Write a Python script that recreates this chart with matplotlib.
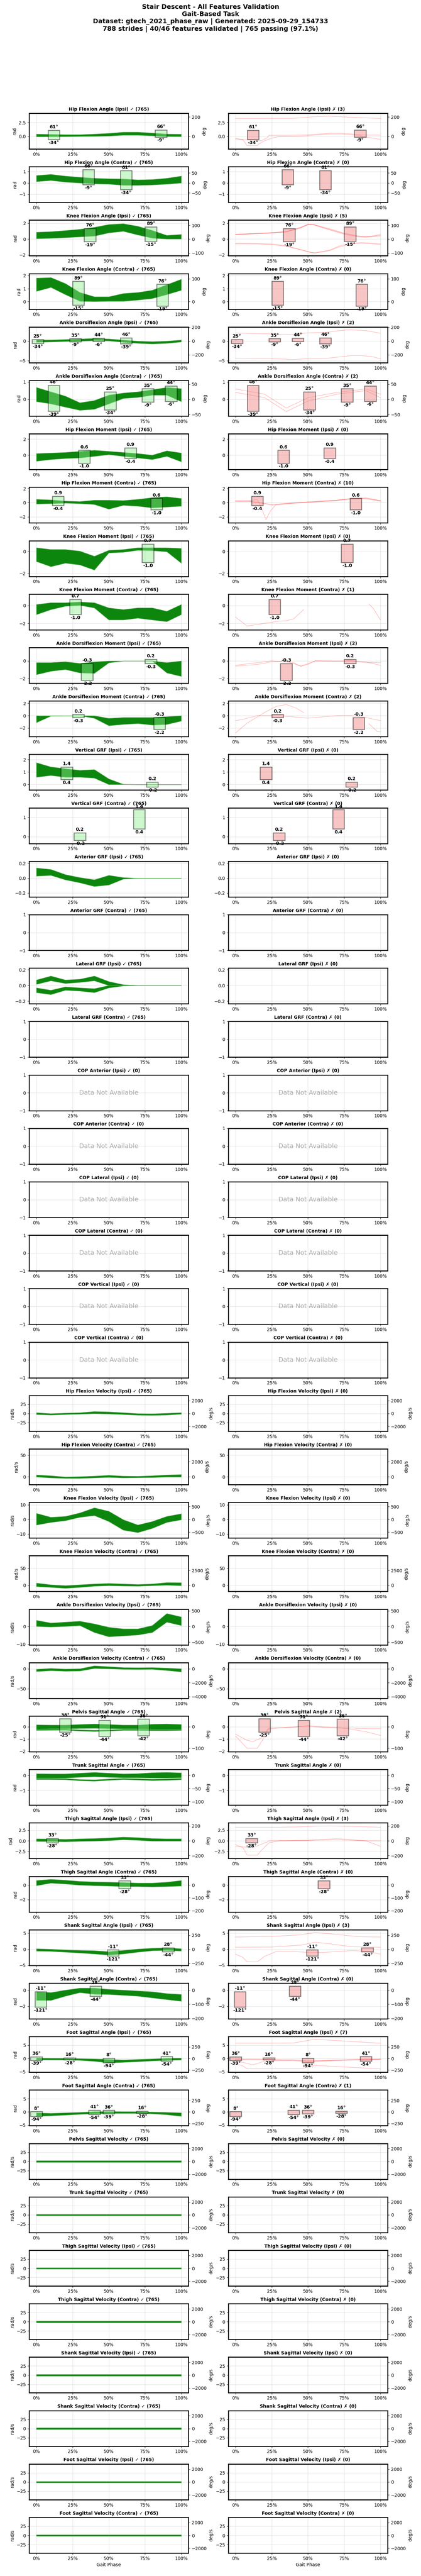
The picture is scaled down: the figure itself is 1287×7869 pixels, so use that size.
import numpy as np
import matplotlib
matplotlib.use("Agg")
import matplotlib.pyplot as plt
from matplotlib.patches import Rectangle

# ---------------------------------------------------------------- data
PHASE = [0, 10, 20, 30, 40, 50, 60, 70, 80, 90, 100]

FEATURES = [
    "Hip Flexion Angle (Ipsi)", "Hip Flexion Angle (Contra)",
    "Knee Flexion Angle (Ipsi)", "Knee Flexion Angle (Contra)",
    "Ankle Dorsiflexion Angle (Ipsi)", "Ankle Dorsiflexion Angle (Contra)",
    "Hip Flexion Moment (Ipsi)", "Hip Flexion Moment (Contra)",
    "Knee Flexion Moment (Ipsi)", "Knee Flexion Moment (Contra)",
    "Ankle Dorsiflexion Moment (Ipsi)", "Ankle Dorsiflexion Moment (Contra)",
    "Vertical GRF (Ipsi)", "Vertical GRF (Contra)",
    "Anterior GRF (Ipsi)", "Anterior GRF (Contra)",
    "Lateral GRF (Ipsi)", "Lateral GRF (Contra)",
    "COP Anterior (Ipsi)", "COP Anterior (Contra)",
    "COP Lateral (Ipsi)", "COP Lateral (Contra)",
    "COP Vertical (Ipsi)", "COP Vertical (Contra)",
    "Hip Flexion Velocity (Ipsi)", "Hip Flexion Velocity (Contra)",
    "Knee Flexion Velocity (Ipsi)", "Knee Flexion Velocity (Contra)",
    "Ankle Dorsiflexion Velocity (Ipsi)", "Ankle Dorsiflexion Velocity (Contra)",
    "Pelvis Sagittal Angle", "Trunk Sagittal Angle",
    "Thigh Sagittal Angle (Ipsi)", "Thigh Sagittal Angle (Contra)",
    "Shank Sagittal Angle (Ipsi)", "Shank Sagittal Angle (Contra)",
    "Foot Sagittal Angle (Ipsi)", "Foot Sagittal Angle (Contra)",
    "Pelvis Sagittal Velocity", "Trunk Sagittal Velocity",
    "Thigh Sagittal Velocity (Ipsi)", "Thigh Sagittal Velocity (Contra)",
    "Shank Sagittal Velocity (Ipsi)", "Shank Sagittal Velocity (Contra)",
    "Foot Sagittal Velocity (Ipsi)", "Foot Sagittal Velocity (Contra)",
]
# unit kind per feature: a = angle, v = velocity, n = no unit axis
UNITS = list("aaaaaa" + "nnnnnn" + "nnnnnn" + "nnnnnn" + "vvvvvv" + "aaaaaaaa" + "vvvvvvvv")
PASS_N = [765] * 18 + [0] * 6 + [765] * 22
FAIL_N = [3, 0, 5, 0, 2, 2, 0, 10, 0, 1, 2, 2, 0, 0, 0, 0, 0, 0,
          0, 0, 0, 0, 0, 0, 0, 0, 0, 0, 0, 0,
          2, 0, 3, 0, 3, 0, 7, 1, 0, 0, 0, 0, 0, 0, 0, 0]
NO_DATA = [18, 19, 20, 21, 22, 23]

YLIMS = [
    (-2.32, 4.17), (-1.70, 1.41), (-2.10, 2.39), (-0.58, 2.15), (-5.5, 3.58), (-0.96, 1.09),
    (-1.80, 2.65), (-2.86, 2.17), (-2.27, 1.0), (-2.72, 1.29), (-2.54, 1.53), (-3.39, 2.38),
    (-0.45, 2.41), (-0.36, 1.5), (-0.253, 0.23), (-1, 1), (-0.233, 0.22), (-1, 1),
    (-1, 1), (-1, 1), (-1, 1), (-1, 1), (-1, 1), (-1, 1),
    (-48, 49), (-17.7, 64.3), (-12.8, 11.7), (-18.4, 87), (-10.3, 9.7), (-73.8, 15.6),
    (-2.03, 0.88), (-1.98, 0.39), (-4.2, 4.23), (-3.68, 1.19), (-5.0, 6.07), (-3.55, 0.85),
    (-5.2, 8.3), (-5.2, 8.3), (-48, 49), (-48, 49), (-48, 49), (-48, 49),
    (-48, 49), (-48, 49), (-48, 49), (-48, 49),
]

# passing stride envelopes (low / high) sampled at PHASE
hip_ang_ipsi_lo = [-0.08, -0.06, -0.05, -0.02, 0.0, 0.06, 0.2, 0.2, 0.1, -0.03, -0.05]
hip_ang_ipsi_hi = [0.4, 0.35, 0.3, 0.3, 0.4, 0.54, 0.75, 0.75, 0.6, 0.4, 0.38]
hip_ang_contra_lo = [0.12, 0.22, 0.08, 0.0, -0.07, -0.1, -0.2, -0.2, -0.17, -0.1, 0.0]
hip_ang_contra_hi = [0.65, 0.75, 0.6, 0.5, 0.41, 0.37, 0.35, 0.27, 0.3, 0.41, 0.6]
knee_ang_ipsi_lo = [0.07, 0.12, 0.2, 0.3, 0.4, 0.8, 1.0, 0.54, 0.14, 0.03, 0.03]
knee_ang_ipsi_hi = [0.88, 0.95, 1.09, 1.25, 1.5, 1.85, 1.95, 1.63, 1.1, 0.48, 0.6]
knee_ang_contra_lo = [0.8, 1.1, 0.55, 0.04, 0.02, 0.04, 0.04, 0.13, 0.25, 0.55, 0.88]
knee_ang_contra_hi = [1.81, 1.85, 1.39, 0.71, 0.38, 0.38, 0.63, 0.71, 0.88, 1.3, 1.72]
ankle_ang_ipsi_lo = [-0.28, -0.2, -0.08, 0.0, 0.14, 0.08, -0.28, -0.55, -0.7, -0.55, -0.2]
ankle_ang_ipsi_hi = [0.28, 0.3, 0.42, 0.55, 0.7, 0.55, 0.28, 0.0, -0.14, 0.0, 0.28]
ankle_ang_contra_lo = [-0.12, -0.25, -0.44, -0.62, -0.56, -0.25, 0.06, 0.12, 0.25, 0.25, -0.12]
ankle_ang_contra_hi = [0.69, 0.44, 0.19, -0.19, -0.06, 0.25, 0.37, 0.44, 0.56, 0.69, 0.62]
hip_mom_ipsi_lo = [-0.75, -0.54, -0.41, -0.34, -0.14, 0.07, -0.14, -0.34, -0.54, -0.14, -0.82]
hip_mom_ipsi_hi = [0.2, 0.27, 0.34, 0.48, 0.61, 0.48, 0.34, 0.2, 0.0, 0.54, 0.27]
hip_mom_contra_lo = [-0.17, -0.12, -0.05, -0.12, -0.24, -0.9, -0.36, -0.48, -0.72, -0.6, -0.48]
hip_mom_contra_hi = [0.48, 0.4, 0.24, 0.17, 0.36, 0.36, 0.31, 0.48, 0.72, 0.84, 0.6]
knee_mom_ipsi_lo = [-0.9, -1.37, -1.05, -1.21, -1.68, -0.11, -0.05, 0.13, 0.1, 0.0, -1.05]
knee_mom_ipsi_hi = [0.36, 0.2, 0.2, 0.05, -0.42, 0.13, 0.2, 0.36, 0.36, 0.36, 0.3]
knee_mom_contra_lo = [-1.0, -0.44, -0.06, 0.04, -0.25, -1.6, -1.6, -1.4, -1.6, -1.79, -1.0]
knee_mom_contra_hi = [0.13, 0.33, 0.33, 0.42, 0.33, -0.25, -0.44, -0.25, -0.25, -0.63, 0.13]
ankle_mom_ipsi_lo = [-1.55, -1.16, -0.96, -1.35, -1.4, -0.2, 0.0, 0.0, 0.0, -1.35, -1.75]
ankle_mom_ipsi_hi = [-0.18, -0.18, -0.08, -0.27, -0.1, 0.0, 0.0, 0.0, 0.0, -0.18, 0.0]
ankle_mom_contra_lo = [-1.1, -0.05, 0.0, 0.0, -0.4, -1.6, -1.39, -1.25, -1.5, -1.4, -0.85]
ankle_mom_contra_hi = [0.0, 0.0, 0.0, 0.0, 0.0, -0.42, -0.28, -0.28, -0.28, -0.14, 0.0]
vgrf_ipsi_lo = [0.59, 0.73, 0.59, 0.59, 0.52, 0.0, 0.0, 0.0, 0.0, 0.0, 0.0]
vgrf_ipsi_hi = [1.75, 1.41, 1.27, 1.14, 1.2, 0.45, 0.02, 0.0, 0.0, 0.0, 0.0]
agrf_ipsi_lo = [0.03, 0.04, -0.02, -0.06, -0.11, -0.09, -0.01, 0.0, 0.0, 0.0, 0.0]
agrf_ipsi_hi = [0.14, 0.12, 0.05, 0.01, -0.02, 0.04, 0.01, 0.0, 0.0, 0.0, 0.0]
lgrf_ipsi_up_lo = [0.015, 0.06, 0.026, 0.04, 0.06, 0.0, 0.0, 0.0, 0.0, 0.0, 0.0]
lgrf_ipsi_up_hi = [0.07, 0.12, 0.07, 0.08, 0.12, 0.05, 0.01, 0.0, 0.0, 0.0, 0.0]
lgrf_ipsi_dn_lo = [-0.09, -0.115, -0.06, -0.07, -0.09, -0.03, -0.005, 0.0, 0.0, 0.0, 0.0]
lgrf_ipsi_dn_hi = [-0.03, -0.06, -0.017, -0.03, -0.04, 0.0, 0.0, 0.0, 0.0, 0.0, 0.0]
hip_vel_ipsi_lo = [-2.4, -3.8, -2.4, -1.4, 0.0, -0.9, -2.4, -4.2, -4.7, -3.8, -1.4]
hip_vel_ipsi_hi = [2.4, 0.0, 1.4, 2.4, 5.7, 4.7, 2.4, 0.0, -0.5, 0.9, 2.4]
hip_vel_contra_lo = [0.0, -2.0, -3.1, -3.1, -2.0, -0.8, -2.0, -1.6, -1.2, 0.0, 0.0]
hip_vel_contra_hi = [4.7, 2.8, 0.0, 0.8, 2.0, 3.9, 2.0, 1.6, 2.8, 4.7, 5.5]
knee_vel_ipsi_lo = [-3.8, -2.0, -0.8, 1.5, 2.7, -1.4, -7.3, -9.0, -6.1, -2.0, -0.2]
knee_vel_ipsi_hi = [4.2, 1.5, 2.1, 4.5, 8.0, 5.6, -0.2, -3.8, -1.4, 2.1, 3.9]
knee_vel_contra_lo = [-3.6, -6.0, -8.7, -6.0, -2.5, -1.0, -2.0, -2.5, -1.0, 0.5, -1.0]
knee_vel_contra_hi = [6.6, 1.5, -1.0, 1.5, 4.0, 5.6, 4.0, 2.5, 4.0, 8.0, 7.6]
ankle_vel_ipsi_lo = [0.1, -0.2, 0.1, 0.6, -3.3, -5.7, -5.2, -4.7, -3.3, 2.5, 0.6]
ankle_vel_ipsi_hi = [3.5, 2.0, 2.5, 3.0, 1.5, -0.4, -1.3, -1.3, 0.6, 7.3, 5.4]
ankle_vel_contra_lo = [-6.4, -4.3, -5.6, -5.1, 1.3, 0.4, -0.9, -1.3, -0.9, -3.8, -7.3]
ankle_vel_contra_hi = [-0.9, 1.3, -0.4, 0.4, 7.7, 5.6, 3.4, 3.0, 3.4, 2.1, 0.4]
pelvis_ang_lo = [-0.18, -0.15, -0.15, -0.12, -0.11, -0.13, -0.15, -0.15, -0.18, -0.18, -0.18]
pelvis_ang_hi = [0.17, 0.15, 0.15, 0.2, 0.24, 0.2, 0.15, 0.15, 0.22, 0.24, 0.2]
pelvis_ang2_lo = [-0.28, -0.27, -0.26, -0.33, -0.37, -0.33, -0.28, -0.28, -0.3, -0.3, -0.28]
pelvis_ang2_hi = [-0.2, -0.19, -0.19, -0.24, -0.27, -0.24, -0.2, -0.2, -0.2, -0.2, -0.2]
trunk_ang_lo = [-0.17, -0.17, -0.17, -0.12, -0.08, -0.12, -0.15, -0.15, -0.17, -0.17, -0.15]
trunk_ang_hi = [0.11, 0.1, 0.1, 0.15, 0.2, 0.15, 0.1, 0.12, 0.18, 0.2, 0.17]
trunk_ang2_lo = [-0.27, -0.27, -0.28, -0.35, -0.38, -0.32, -0.27, -0.3, -0.34, -0.32, -0.28]
trunk_ang2_hi = [-0.2, -0.2, -0.21, -0.27, -0.29, -0.24, -0.2, -0.22, -0.25, -0.23, -0.2]
thigh_ang_ipsi_lo = [-0.12, -0.15, -0.2, -0.1, -0.04, 0.08, 0.28, 0.16, -0.04, -0.04, -0.04]
thigh_ang_ipsi_hi = [0.48, 0.45, 0.36, 0.48, 0.56, 0.69, 0.89, 0.77, 0.56, 0.48, 0.48]
thigh_ang_contra_lo = [-0.07, 0.28, 0.16, 0.0, -0.07, -0.12, -0.19, -0.19, -0.23, -0.19, -0.12]
thigh_ang_contra_hi = [0.63, 0.79, 0.67, 0.51, 0.44, 0.4, 0.35, 0.28, 0.28, 0.4, 0.63]
shank_ang_ipsi_lo = [-0.5, -0.6, -0.85, -1.1, -1.4, -1.75, -1.4, -0.85, -0.4, -0.3, -0.5]
shank_ang_ipsi_hi = [0.2, 0.05, -0.16, -0.3, -0.4, -0.7, -0.3, 0.1, 0.37, 0.5, 0.2]
shank_ang_contra_lo = [-1.26, -1.26, -0.74, -0.3, -0.5, -0.53, -0.63, -0.74, -0.95, -1.16, -1.37]
shank_ang_contra_hi = [-0.2, -0.3, 0.0, 0.25, 0.25, 0.1, 0.0, -0.1, -0.2, -0.42, -0.53]
foot_ang_ipsi_lo = [-0.45, -0.5, -0.5, -0.65, -1.0, -1.6, -1.4, -1.15, -0.85, -0.65, -0.5]
foot_ang_ipsi_hi = [0.2, 0.15, 0.13, 0.0, -0.13, -0.3, -0.5, -0.3, -0.13, 0.13, 0.2]
foot_ang_contra_lo = [-1.6, -1.4, -1.15, -0.85, -0.65, -0.5, -0.5, -0.5, -0.65, -1.0, -1.6]
foot_ang_contra_hi = [-0.3, -0.5, -0.3, -0.13, 0.13, 0.2, 0.15, 0.13, 0.0, -0.13, -0.3]
pelvis_vel_lo = [-2, -2, -2, -2, -2, -2, -2, -2, -2, -2, -2]
pelvis_vel_hi = [2, 2, 2, 2, 2, 2, 2, 2, 2, 2, 2]

BANDS = {
    0: [(hip_ang_ipsi_lo, hip_ang_ipsi_hi)],
    1: [(hip_ang_contra_lo, hip_ang_contra_hi)],
    2: [(knee_ang_ipsi_lo, knee_ang_ipsi_hi)],
    3: [(knee_ang_contra_lo, knee_ang_contra_hi)],
    4: [(ankle_ang_ipsi_lo, ankle_ang_ipsi_hi)],
    5: [(ankle_ang_contra_lo, ankle_ang_contra_hi)],
    6: [(hip_mom_ipsi_lo, hip_mom_ipsi_hi)],
    7: [(hip_mom_contra_lo, hip_mom_contra_hi)],
    8: [(knee_mom_ipsi_lo, knee_mom_ipsi_hi)],
    9: [(knee_mom_contra_lo, knee_mom_contra_hi)],
    10: [(ankle_mom_ipsi_lo, ankle_mom_ipsi_hi)],
    11: [(ankle_mom_contra_lo, ankle_mom_contra_hi)],
    12: [(vgrf_ipsi_lo, vgrf_ipsi_hi)],
    14: [(agrf_ipsi_lo, agrf_ipsi_hi)],
    16: [(lgrf_ipsi_up_lo, lgrf_ipsi_up_hi), (lgrf_ipsi_dn_lo, lgrf_ipsi_dn_hi)],
    24: [(hip_vel_ipsi_lo, hip_vel_ipsi_hi)],
    25: [(hip_vel_contra_lo, hip_vel_contra_hi)],
    26: [(knee_vel_ipsi_lo, knee_vel_ipsi_hi)],
    27: [(knee_vel_contra_lo, knee_vel_contra_hi)],
    28: [(ankle_vel_ipsi_lo, ankle_vel_ipsi_hi)],
    29: [(ankle_vel_contra_lo, ankle_vel_contra_hi)],
    30: [(pelvis_ang_lo, pelvis_ang_hi), (pelvis_ang2_lo, pelvis_ang2_hi)],
    31: [(trunk_ang_lo, trunk_ang_hi), (trunk_ang2_lo, trunk_ang2_hi)],
    32: [(thigh_ang_ipsi_lo, thigh_ang_ipsi_hi)],
    33: [(thigh_ang_contra_lo, thigh_ang_contra_hi)],
    34: [(shank_ang_ipsi_lo, shank_ang_ipsi_hi)],
    35: [(shank_ang_contra_lo, shank_ang_contra_hi)],
    36: [(foot_ang_ipsi_lo, foot_ang_ipsi_hi)],
    37: [(foot_ang_contra_lo, foot_ang_contra_hi)],
    38: [(pelvis_vel_lo, pelvis_vel_hi)],
    39: [(pelvis_vel_lo, pelvis_vel_hi)],
    40: [(pelvis_vel_lo, pelvis_vel_hi)],
    41: [(pelvis_vel_lo, pelvis_vel_hi)],
    42: [(pelvis_vel_lo, pelvis_vel_hi)],
    43: [(pelvis_vel_lo, pelvis_vel_hi)],
    44: [(pelvis_vel_lo, pelvis_vel_hi)],
    45: [(pelvis_vel_lo, pelvis_vel_hi)],
}

# validation boxes: (phase start %, phase end %, min, max); degrees for angles
BOXES = {
    0: [(8, 16, -34, 61), (82, 90, -9, 66)],
    1: [(32, 40, -9, 66), (58, 66, -34, 61)],
    2: [(33, 41, -19, 76), (75, 83, -15, 89)],
    3: [(25, 33, -15, 89), (83, 91, -19, 76)],
    4: [(-3, 5, -34, 25), (23, 31, -9, 35), (39, 47, -6, 44), (58, 66, -39, 46)],
    5: [(8, 16, -39, 46), (47, 55, -34, 25), (73, 81, -9, 35), (89, 97, -6, 44)],
    6: [(29, 37, -1.0, 0.6), (61, 69, -0.4, 0.9)],
    7: [(11, 19, -0.4, 0.9), (79, 87, -1.0, 0.6)],
    8: [(73, 81, -1.0, 0.7)],
    9: [(23, 31, -1.0, 0.7)],
    10: [(31, 39, -2.2, -0.3), (75, 83, -0.3, 0.2)],
    11: [(25, 33, -0.3, 0.2), (81, 89, -2.2, -0.3)],
    12: [(17, 25, 0.4, 1.4), (76, 84, -0.2, 0.2)],
    13: [(26, 34, -0.2, 0.2), (67, 75, 0.4, 1.4)],
    30: [(16, 24, -25, 38), (43, 51, -44, 31), (70, 78, -42, 36)],
    32: [(7, 15, -28, 33)],
    33: [(57, 65, -28, 33)],
    34: [(49, 57, -121, -11), (87, 95, -44, 28)],
    35: [(-1, 7, -121, -11), (37, 45, -44, 28)],
    36: [(-4, 4, -39, 36), (19, 27, -28, 16), (46, 54, -94, 8), (86, 94, -54, 41)],
    37: [(-4, 4, -94, 8), (36, 44, -54, 41), (46, 54, -39, 36), (69, 77, -28, 16)],
}

# failing strides: (phase points, values)
FAILS = {
    0: [([0, 40, 55, 65, 75, 90, 100], [3.23, 3.25, 3.55, 3.63, 3.5, 3.33, 3.23]),
        ([0, 5, 8, 15, 16, 20, 25, 30, 40, 50, 62, 72, 85, 92, 100],
         [-0.38, -0.6, -1.73, -1.73, -1.43, -0.83, -0.35, -0.08, -0.04, 0.1, 0.36, 0.4, 0.16, -0.24, -0.58]),
        ([0, 10, 18, 22, 23, 40, 50, 65, 72, 80, 90, 100],
         [-0.54, -0.68, -0.83, -0.24, 0.16, 0.16, 0.26, 0.52, 0.56, 0.4, 0.2, 0.2])],
    2: [([0, 20, 35, 45, 50, 52, 65, 75, 85, 90, 95, 100],
         [0.61, 0.75, 0.95, 1.5, 1.88, 1.88, 1.22, 0.68, 0.34, 0.27, 0.4, 0.61]),
        ([0, 20, 35, 45, 50, 54, 65, 75, 85, 90, 95, 100],
         [0.55, 0.72, 0.9, 1.4, 1.8, 1.85, 1.3, 0.75, 0.4, 0.3, 0.38, 0.48]),
        ([0, 20, 35, 45, 50, 53, 65, 75, 85, 90, 95, 100],
         [0.6, 0.74, 0.92, 1.45, 1.85, 1.86, 1.15, 0.6, 0.28, 0.25, 0.3, 0.4]),
        ([0, 15, 25, 35, 45, 52, 55, 65, 72, 80, 87, 92, 100],
         [-0.52, -0.55, -0.62, -0.83, -1.31, -1.66, -1.72, -1.38, -0.83, -0.52, -0.44, -0.48, -0.59]),
        ([0, 15, 25, 35, 45, 52, 55, 65, 72, 80, 87, 92, 100],
         [-0.6, -0.62, -0.7, -0.9, -1.35, -1.7, -1.75, -1.45, -0.95, -0.62, -0.5, -0.55, -0.7])],
    4: [([0, 25, 40, 50, 62, 75, 80, 90, 100], [2.03, 1.8, 1.67, 2.08, 2.2, 2.78, 2.86, 2.64, 2.0]),
        ([0, 25, 40, 50, 62, 72, 80, 87, 95, 100], [-4.36, -4.44, -4.72, -4.44, -4.44, -4.03, -3.7, -3.7, -4.03, -4.53])],
    5: [([0, 20, 35, 50, 70, 90, 100], [0.6, 0.3, -0.5, 0.1, 0.4, 0.6, 0.3]),
        ([0, 20, 35, 50, 70, 90, 100], [0.4, 0.1, -0.7, -0.1, 0.3, 0.5, 0.1])],
    7: [([0, 10, 20, 25, 30, 40, 50, 60, 70, 80, 90, 100],
         [0.25, 0.2, -0.1, -0.25, -0.2, -0.05, 0.1, 0.2, 0.35, 0.5, 0.6, 0.3]),
        ([0, 10, 20, 25, 30, 40, 50, 60, 70, 80, 90, 100],
         [0.2, 0.15, -0.15, -0.35, -0.3, -0.1, 0.0, 0.15, 0.3, 0.55, 0.7, 0.25]),
        ([0, 10, 15, 18, 21, 24, 28, 35, 50, 70, 80, 90, 100],
         [0.2, 0.3, 0.45, -0.8, -2.4, -1.2, -0.25, -0.1, 0.1, 0.35, 0.6, 0.55, 0.2])],
    9: [([0, 8, 20, 30, 35, 40, 47], [-1.3, -2.3, -2.0, -1.75, -1.7, -1.5, -0.45]),
        ([92, 95, 100], [0.2, -0.3, -1.6])],
    10: [([0, 15, 25, 35, 40, 45, 50, 55, 70, 80, 90, 100],
          [-0.5, -0.2, 0.0, -0.1, -0.3, -0.6, -0.4, 0.0, 0.0, 0.0, -0.1, -0.5]),
         ([0, 15, 25, 35, 40, 45, 50, 55, 70, 80, 90, 100],
          [-0.6, -0.4, -0.1, 0.0, -0.2, -0.6, -0.3, 0.0, -0.05, 0.0, -0.2, -0.2])],
    11: [([0, 5, 15, 30, 40, 50, 60, 70, 80, 90, 100],
          [-0.8, -0.6, 0.0, 0.0, -0.2, -0.4, -0.2, 0.0, 0.0, -0.3, -0.8]),
         ([0, 8, 20, 28, 35, 42, 47], [-2.8, -1.2, 0.5, 1.5, 1.8, 1.2, 0.5]),
         ([92, 98, 100], [-1.3, -2.6, -2.6])],
    30: [([0, 8, 12, 18, 22, 30, 40, 50, 60, 70, 80, 90, 100],
          [-0.6, -1.1, -1.2, -0.9, -0.2, -0.1, 0.0, 0.05, -0.05, -0.1, -0.1, -0.15, -0.15]),
         ([0, 8, 15, 20, 22, 23, 40, 50, 60, 70, 80, 90, 100],
          [-0.75, -1.75, -1.75, -0.8, -0.3, -0.1, -0.05, 0.1, 0.0, -0.05, -0.2, -0.4, -0.7])],
    32: [([0, 30, 45, 55, 65, 80, 100], [3.2, 3.2, 3.3, 3.45, 3.5, 3.4, 3.2]),
         ([0, 5, 8, 15, 18, 23, 30, 50, 70, 90, 100],
          [-0.93, -1.6, -3.4, -3.4, -2.2, -0.5, 0.0, 0.1, 0.25, 0.0, 0.0]),
         ([0, 12, 20, 22, 23, 50, 70, 90, 100],
          [-1.3, -1.65, -0.5, -0.3, 0.0, 0.1, 0.5, 0.0, -1.3])],
    34: [([0, 25, 45, 55, 70, 85, 100], [3.8, 4.0, 4.5, 5.2, 4.6, 3.9, 3.8]),
         ([0, 25, 45, 55, 65, 80, 100], [0.64, 0.7, 1.3, 2.2, 1.7, 0.8, 0.64]),
         ([0, 5, 8, 15, 20, 28, 40, 50, 60, 80, 90, 100],
          [-1.5, -2.5, -3.9, -3.9, -2.2, -0.7, -0.7, -0.96, -1.0, -0.4, -0.6, -1.5])],
    36: [([0, 20, 40, 55, 75, 100], [5.8, 5.8, 5.9, 7.3, 6.6, 5.8]),
         ([0, 5, 8, 15, 20, 30, 45, 55, 75, 100], [-1.95, -2.8, -3.9, -3.9, -3.9, -3.9, -3.9, -2.6, -3.2, -3.9]),
         ([0, 12, 20, 40, 60, 80, 100], [-0.8, -2.4, -1.0, -0.6, -0.8, -0.5, -0.3]),
         ([0, 20, 40, 50, 60, 80, 100], [-0.2, -0.3, -0.5, -1.1, -0.8, -0.4, -0.2]),
         ([0, 20, 40, 50, 60, 80, 100], [-0.4, -0.5, -0.8, -1.3, -1.0, -0.6, -0.3])],
}

# ---------------------------------------------------------------- plot
R2D = 180.0 / np.pi
UNIT_LABELS = {"a": ("rad", "deg"), "v": ("rad/s", "deg/s")}

fig, axes = plt.subplots(46, 2, figsize=(12.87, 78.69), dpi=100)
fig.subplots_adjust(left=89 / 1287, right=1185 / 1287, top=1 - 346 / 7869,
                    bottom=70 / 7869, hspace=0.497, wspace=0.2505)

fig.suptitle("Stair Descent - All Features Validation\nGait-Based Task\n"
             "Dataset: gtech_2021_phase_raw | Generated: 2025-09-29_154733\n"
             "788 strides | 40/46 features validated | 765 passing (97.1%)",
             fontsize=14, fontweight="bold", y=0.9985, va="top")


def draw_boxes(ax, row, passing):
    unit = UNITS[row]
    for x0, x1, vmin, vmax in BOXES.get(row, []):
        if unit == "a":
            y0, y1 = vmin / R2D, vmax / R2D
            top, bot = f"{vmax:.0f}°", f"{vmin:.0f}°"
        else:
            y0, y1 = vmin, vmax
            top, bot = f"{vmax:.1f}", f"{vmin:.1f}"
        face = "lightgreen" if passing else "lightcoral"
        ax.add_patch(Rectangle((x0, y0), x1 - x0, y1 - y0, facecolor=face,
                               edgecolor="black", linewidth=2, alpha=0.45, zorder=4))
        xc = (x0 + x1) / 2
        ax.annotate(top, (xc, y1), xytext=(0, 2), textcoords="offset points",
                    ha="center", va="bottom", fontsize=10, fontweight="bold", zorder=6)
        ax.annotate(bot, (xc, y0), xytext=(0, -2), textcoords="offset points",
                    ha="center", va="top", fontsize=10, fontweight="bold", zorder=6)


for row in range(46):
    for col in range(2):
        ax = axes[row, col]
        passing = col == 0
        mark = "✓" if passing else "✗"
        count = PASS_N[row] if passing else FAIL_N[row]
        ax.set_title(f"{FEATURES[row]} {mark} ({count})", fontsize=10, fontweight="bold")
        ax.set_xlim(-5, 105)
        ax.set_ylim(*YLIMS[row])
        ax.set_xticks([0, 25, 50, 75, 100])
        ax.set_xticklabels(["0%", "25%", "50%", "75%", "100%"])
        ax.tick_params(labelsize=10)
        ax.grid(True, color="lightgray", alpha=0.6, linewidth=1)
        ax.set_axisbelow(True)
        for sp in ax.spines.values():
            sp.set_linewidth(2)

        if row in NO_DATA:
            ax.text(50, 0, "Data Not Available", ha="center", va="center",
                    fontsize=14, color="gray", alpha=0.65)
        elif passing:
            for lo, hi in BANDS.get(row, []):
                ax.fill_between(PHASE, lo, hi, facecolor="green", edgecolor="#55aa55",
                                linewidth=1.0, alpha=0.95, zorder=2)
        else:
            for xs, ys in FAILS.get(row, []):
                ax.plot(xs, ys, color="red", alpha=0.3, linewidth=1, zorder=2)

        draw_boxes(ax, row, passing)

        unit = UNITS[row]
        if unit in UNIT_LABELS:
            left_lab, right_lab = UNIT_LABELS[unit]
            if passing:
                ax.set_ylabel(left_lab, fontsize=10)
            tw = ax.twinx()
            lo, hi = YLIMS[row]
            tw.set_ylim(lo * R2D, hi * R2D)
            tw.set_ylabel(right_lab, fontsize=10)
            tw.tick_params(labelsize=10)

        if row == 45:
            ax.set_xlabel("Gait Phase", fontsize=10)

fig.savefig("out.png", dpi=100)
